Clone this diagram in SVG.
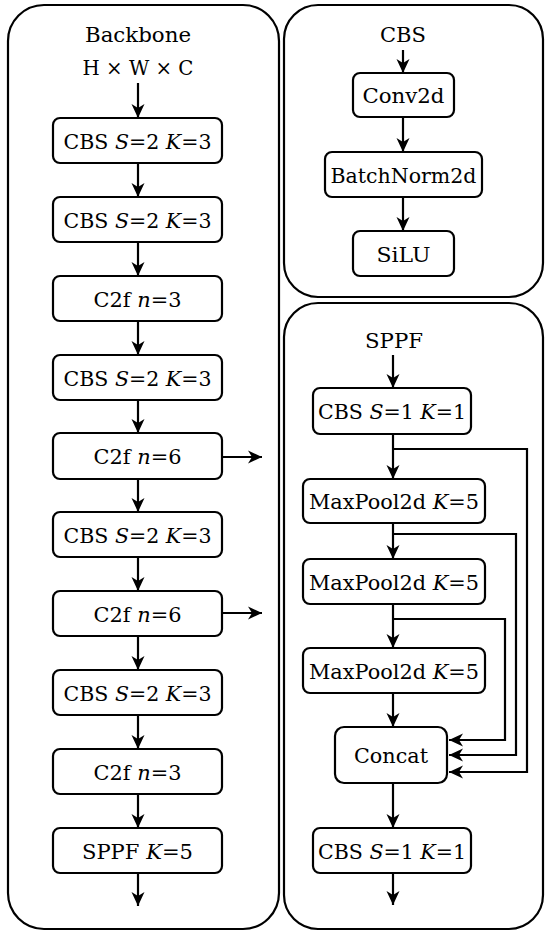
<svg xmlns="http://www.w3.org/2000/svg" width="546" height="936" viewBox="0 0 546 936">
<style>
.panel{fill:none;stroke:#000;stroke-width:2.2}
.box{fill:#fff;stroke:#000;stroke-width:2.2}
.t{font-family:'DejaVu Serif','Liberation Serif',serif;font-size:21px;fill:#000;text-anchor:middle}
.i{font-style:italic}
.c{fill:none;stroke:#000;stroke-width:2.2}
</style>
<defs>
<marker id="ah" markerUnits="userSpaceOnUse" markerWidth="16" markerHeight="16" viewBox="-1 -8 16 16" refX="14" refY="0" orient="auto">
<path d="M0,-6.5 L14,0 L0,6.5 L4,0 z" fill="#000"/>
</marker>
</defs>
<rect width="546" height="936" fill="#fff"/>
<g id="panels">
<rect class="panel" x="8" y="5" width="271" height="924" rx="36"/>
<rect class="panel" x="284" y="5" width="259" height="292" rx="34"/>
<rect class="panel" x="284" y="303" width="259" height="626" rx="34"/>
</g>

<g id="labels">
<text class="t" x="138" y="42" textLength="106" lengthAdjust="spacingAndGlyphs">Backbone</text>
<text class="t" x="138" y="75" textLength="111" lengthAdjust="spacingAndGlyphs">H × W × C</text>
<text class="t" x="403" y="42" textLength="46" lengthAdjust="spacingAndGlyphs">CBS</text>
<text class="t" x="394" y="348" textLength="58" lengthAdjust="spacingAndGlyphs">SPPF</text>
</g>

<g id="b1"><rect class="box" x="53" y="118" width="169" height="45" rx="7"/><text class="t" x="137.5" y="149" textLength="148" lengthAdjust="spacingAndGlyphs">CBS <tspan class="i">S</tspan>=2 <tspan class="i">K</tspan>=3</text></g>
<g id="b2"><rect class="box" x="53" y="197" width="169" height="45" rx="7"/><text class="t" x="137.5" y="228" textLength="148" lengthAdjust="spacingAndGlyphs">CBS <tspan class="i">S</tspan>=2 <tspan class="i">K</tspan>=3</text></g>
<g id="b3"><rect class="box" x="53" y="276" width="169" height="45" rx="7"/><text class="t" x="137.5" y="307" textLength="88" lengthAdjust="spacingAndGlyphs">C2f <tspan class="i">n</tspan>=3</text></g>
<g id="b4"><rect class="box" x="53" y="355" width="169" height="45" rx="7"/><text class="t" x="137.5" y="386" textLength="148" lengthAdjust="spacingAndGlyphs">CBS <tspan class="i">S</tspan>=2 <tspan class="i">K</tspan>=3</text></g>
<g id="b5"><rect class="box" x="53" y="433" width="169" height="46" rx="7"/><text class="t" x="137.5" y="464" textLength="88" lengthAdjust="spacingAndGlyphs">C2f <tspan class="i">n</tspan>=6</text></g>
<g id="b6"><rect class="box" x="53" y="512" width="169" height="45" rx="7"/><text class="t" x="137.5" y="543" textLength="148" lengthAdjust="spacingAndGlyphs">CBS <tspan class="i">S</tspan>=2 <tspan class="i">K</tspan>=3</text></g>
<g id="b7"><rect class="box" x="53" y="591" width="169" height="45" rx="7"/><text class="t" x="137.5" y="622" textLength="88" lengthAdjust="spacingAndGlyphs">C2f <tspan class="i">n</tspan>=6</text></g>
<g id="b8"><rect class="box" x="53" y="670" width="169" height="45" rx="7"/><text class="t" x="137.5" y="701" textLength="148" lengthAdjust="spacingAndGlyphs">CBS <tspan class="i">S</tspan>=2 <tspan class="i">K</tspan>=3</text></g>
<g id="b9"><rect class="box" x="53" y="749" width="169" height="45" rx="7"/><text class="t" x="137.5" y="780" textLength="88" lengthAdjust="spacingAndGlyphs">C2f <tspan class="i">n</tspan>=3</text></g>
<g id="b10"><rect class="box" x="53" y="828" width="169" height="45" rx="7"/><text class="t" x="137.5" y="859" textLength="111" lengthAdjust="spacingAndGlyphs">SPPF <tspan class="i">K</tspan>=5</text></g>

<g id="cbs_conv"><rect class="box" x="353" y="73" width="101" height="44" rx="7"/><text class="t" x="403.5" y="103" textLength="82" lengthAdjust="spacingAndGlyphs">Conv2d</text></g>
<g id="cbs_bn"><rect class="box" x="325" y="152" width="157" height="45" rx="7"/><text class="t" x="403.5" y="183" textLength="146" lengthAdjust="spacingAndGlyphs">BatchNorm2d</text></g>
<g id="cbs_silu"><rect class="box" x="353" y="231" width="101" height="45" rx="7"/><text class="t" x="403.5" y="262" textLength="54" lengthAdjust="spacingAndGlyphs">SiLU</text></g>

<g id="sppf_cbs1"><rect class="box" x="313" y="388" width="158" height="46" rx="7"/><text class="t" x="392" y="419" textLength="148" lengthAdjust="spacingAndGlyphs">CBS <tspan class="i">S</tspan>=1 <tspan class="i">K</tspan>=1</text></g>
<g id="sppf_mp1"><rect class="box" x="303" y="479" width="182" height="44" rx="7"/><text class="t" x="394" y="509" textLength="170" lengthAdjust="spacingAndGlyphs">MaxPool2d <tspan class="i">K</tspan>=5</text></g>
<g id="sppf_mp2"><rect class="box" x="303" y="559" width="182" height="45" rx="7"/><text class="t" x="394" y="590" textLength="170" lengthAdjust="spacingAndGlyphs">MaxPool2d <tspan class="i">K</tspan>=5</text></g>
<g id="sppf_mp3"><rect class="box" x="303" y="648" width="182" height="45" rx="7"/><text class="t" x="394" y="679" textLength="170" lengthAdjust="spacingAndGlyphs">MaxPool2d <tspan class="i">K</tspan>=5</text></g>
<g id="sppf_concat"><rect class="box" x="335" y="727" width="112" height="56" rx="9"/><text class="t" x="391" y="763" textLength="74" lengthAdjust="spacingAndGlyphs">Concat</text></g>
<g id="sppf_cbs2"><rect class="box" x="313" y="828" width="158" height="45" rx="7"/><text class="t" x="392" y="859" textLength="148" lengthAdjust="spacingAndGlyphs">CBS <tspan class="i">S</tspan>=1 <tspan class="i">K</tspan>=1</text></g>

<g id="connectors">
<line class="c" x1="138" y1="83" x2="138" y2="118" marker-end="url(#ah)"/>
<line class="c" x1="138" y1="163" x2="138" y2="197" marker-end="url(#ah)"/>
<line class="c" x1="138" y1="242" x2="138" y2="276" marker-end="url(#ah)"/>
<line class="c" x1="138" y1="321" x2="138" y2="355" marker-end="url(#ah)"/>
<line class="c" x1="138" y1="400" x2="138" y2="433" marker-end="url(#ah)"/>
<line class="c" x1="138" y1="479" x2="138" y2="512" marker-end="url(#ah)"/>
<line class="c" x1="138" y1="557" x2="138" y2="591" marker-end="url(#ah)"/>
<line class="c" x1="138" y1="636" x2="138" y2="670" marker-end="url(#ah)"/>
<line class="c" x1="138" y1="715" x2="138" y2="749" marker-end="url(#ah)"/>
<line class="c" x1="138" y1="794" x2="138" y2="828" marker-end="url(#ah)"/>
<line class="c" x1="138" y1="873" x2="138" y2="906" marker-end="url(#ah)"/>
<line class="c" x1="222" y1="457" x2="262" y2="457" marker-end="url(#ah)"/>
<line class="c" x1="222" y1="613" x2="262" y2="613" marker-end="url(#ah)"/>

<line class="c" x1="403" y1="50" x2="403" y2="73" marker-end="url(#ah)"/>
<line class="c" x1="403" y1="117" x2="403" y2="152" marker-end="url(#ah)"/>
<line class="c" x1="403" y1="197" x2="403" y2="231" marker-end="url(#ah)"/>

<line class="c" x1="393" y1="355" x2="393" y2="388" marker-end="url(#ah)"/>
<line class="c" x1="393" y1="434" x2="393" y2="479" marker-end="url(#ah)"/>
<line class="c" x1="393" y1="523" x2="393" y2="559" marker-end="url(#ah)"/>
<line class="c" x1="393" y1="604" x2="393" y2="648" marker-end="url(#ah)"/>
<line class="c" x1="393" y1="693" x2="393" y2="727" marker-end="url(#ah)"/>
<line class="c" x1="393" y1="783" x2="393" y2="828" marker-end="url(#ah)"/>
<line class="c" x1="393" y1="873" x2="393" y2="905" marker-end="url(#ah)"/>
<polyline class="c" points="393,449 527,449 527,772 449,772" marker-end="url(#ah)"/>
<polyline class="c" points="393,534 516,534 516,755 449,755" marker-end="url(#ah)"/>
<polyline class="c" points="393,619 505,619 505,740 449,740" marker-end="url(#ah)"/>
</g>
</svg>
